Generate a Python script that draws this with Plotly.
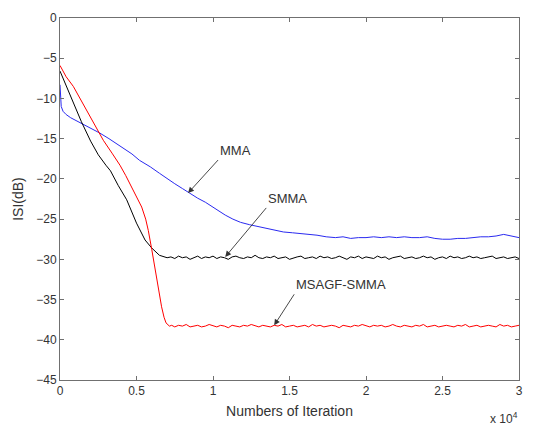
import plotly.graph_objects as go

# ---------------- data ----------------
mma_x = [0, 30, 80, 200, 400, 700, 1000, 1500, 2000, 2600, 3200, 3700, 4200, 4700, 5200,
         5900, 6500, 7000, 7500, 8000, 8400, 9000, 9500, 10200, 10800, 11300, 11800, 12400,
         12850, 13400, 14000, 14600, 15200, 15800, 16300, 16800, 17400, 18000, 18500, 19000,
         19500, 20000, 20500, 21000, 21500, 22000, 22500, 23000, 23500, 24000, 24500, 25000,
         25500, 26000, 26500, 27000, 27500, 28000, 28500, 29000, 29500, 30000]
mma_y = [-8.3, -10.0, -11.0, -11.6, -12.0, -12.4, -12.7, -13.1, -13.6, -14.3, -15.0, -15.6,
         -16.3, -16.9, -17.7, -18.5, -19.3, -20.0, -20.6, -21.2, -21.7, -22.4, -22.9, -23.8,
         -24.5, -25.0, -25.4, -25.7, -25.9, -26.1, -26.4, -26.6, -26.7, -26.8, -26.9, -27.0,
         -27.2, -27.3, -27.2, -27.4, -27.3, -27.3, -27.2, -27.3, -27.2, -27.3, -27.2, -27.3,
         -27.3, -27.2, -27.4, -27.5, -27.5, -27.4, -27.4, -27.3, -27.2, -27.2, -27.1, -26.9,
         -27.1, -27.3]

smma_x_transient = [0, 500, 1000, 1400, 2000, 2500, 3000, 3300, 3800, 4360, 5000, 5560, 6000,
                    6500, 7000]
smma_y_transient = [-6.6, -8.8, -11.1, -12.9, -15.3, -17.0, -18.3, -19.0, -20.8, -22.6, -25.5,
                    -27.6, -28.6, -29.5, -29.8]
smma_x_steady = list(range(7250, 30001, 250))
smma_y_steady = [
    -29.7, -29.9, -29.6, -29.8, -29.7, -30.0, -29.8, -29.6, -29.9, -29.7,
    -29.8, -29.6, -29.9, -29.7, -29.8, -30.0, -29.7, -29.6, -29.8, -29.9,
    -29.7, -29.8, -29.5, -29.8, -29.9, -29.7, -29.8, -29.6, -29.9, -29.8,
    -29.7, -30.0, -29.8, -29.7, -29.6, -29.9, -29.8, -29.7, -29.9, -29.6,
    -29.8, -29.7, -29.9, -29.8, -29.6, -29.8, -30.0, -29.7, -29.8, -29.6,
    -29.9, -29.7, -29.8, -29.9, -29.6, -29.8, -29.7, -30.0, -29.8, -29.7,
    -29.6, -29.9, -29.8, -29.7, -29.9, -29.8, -29.6, -29.8, -29.7, -30.0,
    -29.8, -29.7, -29.9, -29.6, -29.8, -29.7, -29.9, -29.8, -29.6, -29.8,
    -29.7, -29.9, -29.8, -29.7, -29.6, -29.9, -29.8, -29.7, -29.9, -29.8,
    -29.7, -29.9]

msagf_x_transient = [0, 400, 870, 1300, 1740, 2200, 2600, 2830, 3400, 3920, 4300, 4680, 5000,
                     5340, 5600, 5770, 6000, 6320, 6640, 6800, 6930, 7150, 7300]
msagf_y_transient = [-5.9, -7.3, -8.5, -10.0, -11.4, -13.0, -14.4, -15.2, -16.8, -18.3, -19.6,
                     -21.0, -22.2, -23.5, -25.0, -26.4, -28.8, -32.6, -35.9, -37.2, -37.9,
                     -38.3, -38.2]
msagf_x_steady = list(range(7500, 30001, 250))
msagf_y_steady = [
    -38.4, -38.2, -38.3, -38.1, -38.4, -38.3, -38.2, -38.4, -38.3, -38.1,
    -38.3, -38.4, -38.2, -38.3, -38.5, -38.2, -38.3, -38.4, -38.2, -38.3,
    -38.1, -38.3, -38.4, -38.2, -38.3, -38.4, -38.2, -38.3, -38.1, -38.4,
    -38.3, -38.2, -38.4, -38.3, -38.2, -38.4, -38.1, -38.3, -38.2, -38.4,
    -38.3, -38.2, -38.3, -38.5, -38.2, -38.3, -38.4, -38.2, -38.3, -38.1,
    -38.3, -38.4, -38.2, -38.3, -38.2, -38.4, -38.3, -38.1, -38.3, -38.4,
    -38.2, -38.3, -38.4, -38.2, -38.3, -38.1, -38.4, -38.3, -38.2, -38.4,
    -38.3, -38.2, -38.3, -38.4, -38.2, -38.3, -38.1, -38.4, -38.3, -38.2,
    -38.4, -38.3, -38.2, -38.3, -38.4, -38.1, -38.3, -38.2, -38.4, -38.3,
    -38.2]

x_tickvals = [0, 5000, 10000, 15000, 20000, 25000, 30000]
x_ticktext = ["0", "0.5", "1", "1.5", "2", "2.5", "3"]
y_tickvals = [0, -5, -10, -15, -20, -25, -30, -35, -40, -45]
x_title = "Numbers of Iteration"
y_title = "ISI(dB)"
x_exponent = "x 10<sup>4</sup>"

# arrow labels: (text, arrow tip x, arrow tip y)
labels = [("MMA", 8370, -21.76), ("SMMA", 10800, -29.7), ("MSAGF-SMMA", 14000, -38.2)]

# ---------------- figure ----------------
fig = go.Figure()
fig.add_trace(go.Scatter(x=mma_x, y=mma_y, mode="lines", name="MMA",
                         line=dict(color="#2a2af0", width=1)))
fig.add_trace(go.Scatter(x=smma_x_transient + smma_x_steady,
                         y=smma_y_transient + smma_y_steady, mode="lines", name="SMMA",
                         line=dict(color="#000000", width=1)))
fig.add_trace(go.Scatter(x=msagf_x_transient + msagf_x_steady,
                         y=msagf_y_transient + msagf_y_steady, mode="lines", name="MSAGF-SMMA",
                         line=dict(color="#ff0000", width=1)))

axis_color = "#707070"
text_color = "#333333"
font_family = "Liberation Sans, Arial, sans-serif"

# pixel offset of the arrow tail (= bottom-left corner of the label box) from the tip
arrow_offsets = {"MMA": (30, -33), "SMMA": (41, -49), "MSAGF-SMMA": (20, -31)}

for name, tx, ty in labels:
    ax, ay = arrow_offsets[name]
    fig.add_annotation(x=tx, y=ty, xref="x", yref="y", text=name, showarrow=True,
                       ax=ax, ay=ay, xanchor="left", yanchor="bottom",
                       arrowhead=2, arrowsize=1.3, arrowwidth=0.9,
                       arrowcolor="#333333", standoff=0,
                       font=dict(size=13, color=text_color, family=font_family))

fig.add_annotation(x=1.002, y=-0.105, xref="paper", yref="paper",
                   text=x_exponent, showarrow=False, xanchor="right",
                   yanchor="middle", font=dict(size=12, color=text_color, family=font_family))

fig.update_layout(
    width=545, height=426,
    margin=dict(l=60, r=26, t=18, b=46),
    paper_bgcolor="white", plot_bgcolor="white",
    showlegend=False,
    font=dict(family=font_family, size=12, color=text_color),
)
fig.update_xaxes(range=[0, 30000], tickvals=x_tickvals, ticktext=x_ticktext,
                 automargin=False,
                 title=dict(text=x_title, standoff=8,
                            font=dict(size=14, color=text_color, family=font_family)),
                 showgrid=False, zeroline=False, showline=True, mirror="ticks",
                 linecolor=axis_color, linewidth=1, ticks="inside", ticklen=4,
                 tickcolor=axis_color, tickfont=dict(size=12, color=text_color))
fig.update_yaxes(range=[-45, 0], tickvals=y_tickvals,
                 automargin=False,
                 title=dict(text=y_title, standoff=9,
                            font=dict(size=14, color=text_color, family=font_family)),
                 showgrid=False, zeroline=False, showline=True, mirror="ticks",
                 linecolor=axis_color, linewidth=1, ticks="inside", ticklen=4,
                 tickcolor=axis_color, tickfont=dict(size=12, color=text_color))

fig.write_html("out.html")
